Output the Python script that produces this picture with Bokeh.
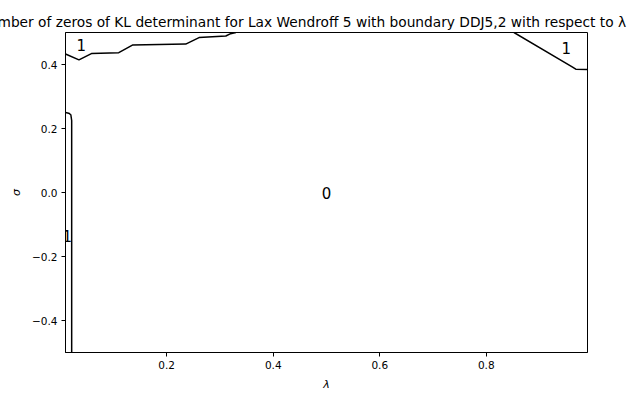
from bokeh.plotting import figure
from bokeh.models import Range1d, FixedTicker, Label
from bokeh.embed import file_html
from bokeh.resources import INLINE

# Contour lines (level 0.5 boundary between regions with 0 and 1 zeros)
contour_a_x = [0.010, 0.0353, 0.0586, 0.110, 0.1356, 0.2357, 0.2607, 0.311, 0.320, 0.330]
contour_a_y = [0.433, 0.4145, 0.434, 0.437, 0.4606, 0.4637, 0.484, 0.489, 0.4963, 0.500]

contour_b_x = [0.852, 0.962, 0.968, 0.990]
contour_b_y = [0.500, 0.392, 0.3855, 0.3846]

contour_c_x = [0.010, 0.016, 0.020, 0.0216, 0.0216]
contour_c_y = [0.250, 0.248, 0.243, 0.225, -0.500]

label_x = [0.0394, 0.950, 0.0135, 0.500]
label_y = [0.461, 0.452, -0.136, 0.000]
label_text = ["1", "1", "1", "0"]

x_ticks = [0.2, 0.4, 0.6, 0.8]
x_tick_labels = ["0.2", "0.4", "0.6", "0.8"]
y_ticks = [-0.4, -0.2, 0.0, 0.2, 0.4]
y_tick_labels = ["\u22120.4", "\u22120.2", "0.0", "0.2", "0.4"]

title_text = "Number of zeros of KL determinant for Lax Wendroff 5 with boundary DDJ5,2 with respect to \u03bb"

FONT = "DejaVu Sans"

p = figure(width=628, height=393, output_backend="svg", toolbar_location=None,
           x_range=Range1d(0.01, 0.99), y_range=Range1d(-0.5, 0.5),
           min_border_left=65, min_border_right=41, min_border_top=32, min_border_bottom=37)

p.title.text = title_text
p.title.align = "left"
p.title.offset = -87
p.title.text_font = FONT
p.title.text_font_size = "13.75px"
p.title.text_font_style = "normal"
p.title.text_color = "black"
p.title.standoff = 6

p.grid.visible = False
p.outline_line_color = "black"
p.outline_line_width = 1
p.background_fill_color = "white"
p.border_fill_color = "white"

for ax in (p.xaxis[0], p.yaxis[0]):
    ax.axis_line_color = "black"
    ax.major_tick_line_color = "black"
    ax.major_tick_out = 4
    ax.major_tick_in = 0
    ax.minor_tick_line_color = None
    ax.major_label_text_font = FONT
    ax.major_label_text_font_size = "10.5px"
    ax.major_label_text_color = "black"
    ax.major_label_standoff = 4
    ax.axis_label_text_font = FONT
    ax.axis_label_text_font_size = "11px"
    ax.axis_label_text_font_style = "italic"
    ax.axis_label_text_color = "black"

p.xaxis[0].ticker = FixedTicker(ticks=x_ticks)
p.xaxis[0].major_label_overrides = dict(zip(x_ticks, x_tick_labels))
p.yaxis[0].ticker = FixedTicker(ticks=y_ticks)
p.yaxis[0].major_label_overrides = dict(zip(y_ticks, y_tick_labels))
p.xaxis[0].axis_label = "\u03bb"
p.xaxis[0].axis_label_standoff = 6
p.yaxis[0].axis_label = "\u03c3"
p.yaxis[0].axis_label_standoff = 6

for xs, ys in ((contour_a_x, contour_a_y), (contour_b_x, contour_b_y), (contour_c_x, contour_c_y)):
    p.line(xs, ys, line_color="black", line_width=1.5)

for lx, ly, lt in zip(label_x, label_y, label_text):
    p.add_layout(Label(x=lx, y=ly, text=lt, text_font=FONT, text_font_size="15px",
                       text_color="black", text_align="center", text_baseline="middle"))

open("out.html", "w").write(file_html(p, INLINE))
